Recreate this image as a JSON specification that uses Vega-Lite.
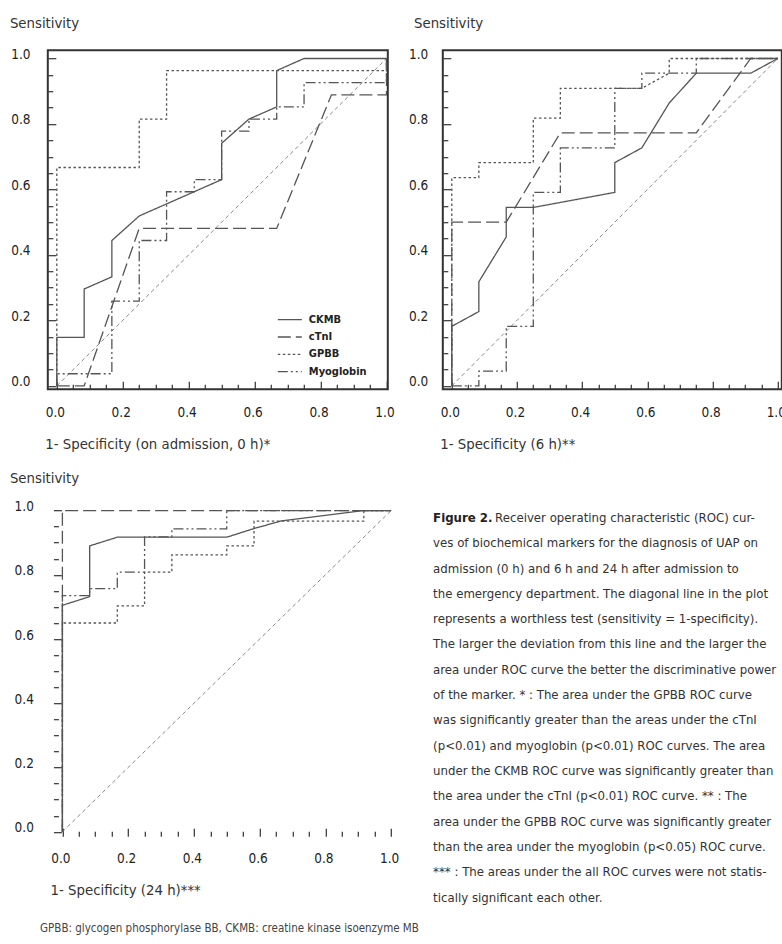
{
  "$schema": "https://vega.github.io/schema/vega-lite/v6.json",
  "background": "white",
  "padding": {"left": 7.8, "top": 14.2, "right": 0, "bottom": 0},
  "config": {
    "font": "DejaVu Sans Condensed, sans-serif",
    "view": {"stroke": "#333", "strokeWidth": 2},
    "axis": {"grid": false, "domain": false, "tickColor": "#333", "tickWidth": 1.2,
      "labelFont": "DejaVu Sans Condensed, sans-serif", "labelFontSize": 13.5, "labelColor": "#222",
      "titleFont": "DejaVu Sans Condensed, sans-serif", "titleFontSize": 14.8, "titleFontWeight": "normal", "titleColor": "#333"},
    "legend": {"symbolType": "stroke", "symbolStrokeWidth": 1.3, "symbolStrokeColor": "#555", "symbolSize": 576, "clipHeight": 13,
      "labelFont": "DejaVu Sans Condensed, sans-serif", "labelFontSize": 11, "labelFontWeight": "bold", "labelColor": "#222",
      "rowPadding": 4.3, "labelOffset": 6, "padding": 0}
  },
  "datasets": {
    "p1": [
      {"m":"CKMB","o":1,"x":0,"y":0},{"m":"CKMB","o":2,"x":0,"y":0.148},{"m":"CKMB","o":3,"x":0.083,"y":0.148},{"m":"CKMB","o":4,"x":0.083,"y":0.296},{"m":"CKMB","o":5,"x":0.167,"y":0.333},{"m":"CKMB","o":6,"x":0.167,"y":0.444},{"m":"CKMB","o":7,"x":0.25,"y":0.519},{"m":"CKMB","o":8,"x":0.5,"y":0.63},{"m":"CKMB","o":9,"x":0.5,"y":0.741},{"m":"CKMB","o":10,"x":0.583,"y":0.815},{"m":"CKMB","o":11,"x":0.667,"y":0.852},{"m":"CKMB","o":12,"x":0.667,"y":0.963},{"m":"CKMB","o":13,"x":0.75,"y":1},{"m":"CKMB","o":14,"x":1,"y":1},
      {"m":"cTnI","o":1,"x":0,"y":0},{"m":"cTnI","o":2,"x":0.083,"y":0},{"m":"cTnI","o":3,"x":0.25,"y":0.481},{"m":"cTnI","o":4,"x":0.667,"y":0.481},{"m":"cTnI","o":5,"x":0.833,"y":0.889},{"m":"cTnI","o":6,"x":1,"y":0.889},{"m":"cTnI","o":7,"x":1,"y":1},
      {"m":"GPBB","o":1,"x":0,"y":0},{"m":"GPBB","o":2,"x":0,"y":0.667},{"m":"GPBB","o":3,"x":0.25,"y":0.667},{"m":"GPBB","o":4,"x":0.25,"y":0.815},{"m":"GPBB","o":5,"x":0.333,"y":0.815},{"m":"GPBB","o":6,"x":0.333,"y":0.963},{"m":"GPBB","o":7,"x":1,"y":0.963},{"m":"GPBB","o":8,"x":1,"y":1},
      {"m":"Myoglobin","o":1,"x":0,"y":0},{"m":"Myoglobin","o":2,"x":0,"y":0.037},{"m":"Myoglobin","o":3,"x":0.167,"y":0.037},{"m":"Myoglobin","o":4,"x":0.167,"y":0.259},{"m":"Myoglobin","o":5,"x":0.25,"y":0.259},{"m":"Myoglobin","o":6,"x":0.25,"y":0.444},{"m":"Myoglobin","o":7,"x":0.333,"y":0.444},{"m":"Myoglobin","o":8,"x":0.333,"y":0.593},{"m":"Myoglobin","o":9,"x":0.417,"y":0.593},{"m":"Myoglobin","o":10,"x":0.417,"y":0.63},{"m":"Myoglobin","o":11,"x":0.5,"y":0.63},{"m":"Myoglobin","o":12,"x":0.5,"y":0.778},{"m":"Myoglobin","o":13,"x":0.583,"y":0.778},{"m":"Myoglobin","o":14,"x":0.583,"y":0.815},{"m":"Myoglobin","o":15,"x":0.667,"y":0.815},{"m":"Myoglobin","o":16,"x":0.667,"y":0.852},{"m":"Myoglobin","o":17,"x":0.75,"y":0.852},{"m":"Myoglobin","o":18,"x":0.75,"y":0.926},{"m":"Myoglobin","o":19,"x":1,"y":0.926},{"m":"Myoglobin","o":20,"x":1,"y":1}
    ],
    "p2": [
      {"m":"CKMB","o":1,"x":0,"y":0},{"m":"CKMB","o":2,"x":0,"y":0.182},{"m":"CKMB","o":3,"x":0.083,"y":0.227},{"m":"CKMB","o":4,"x":0.083,"y":0.318},{"m":"CKMB","o":5,"x":0.167,"y":0.455},{"m":"CKMB","o":6,"x":0.167,"y":0.545},{"m":"CKMB","o":7,"x":0.25,"y":0.545},{"m":"CKMB","o":8,"x":0.5,"y":0.591},{"m":"CKMB","o":9,"x":0.5,"y":0.682},{"m":"CKMB","o":10,"x":0.583,"y":0.727},{"m":"CKMB","o":11,"x":0.667,"y":0.864},{"m":"CKMB","o":12,"x":0.75,"y":0.955},{"m":"CKMB","o":13,"x":0.917,"y":0.955},{"m":"CKMB","o":14,"x":1,"y":1},
      {"m":"cTnI","o":1,"x":0,"y":0},{"m":"cTnI","o":2,"x":0,"y":0.5},{"m":"cTnI","o":3,"x":0.167,"y":0.5},{"m":"cTnI","o":4,"x":0.333,"y":0.773},{"m":"cTnI","o":5,"x":0.75,"y":0.773},{"m":"cTnI","o":6,"x":0.917,"y":1},{"m":"cTnI","o":7,"x":1,"y":1},
      {"m":"GPBB","o":1,"x":0,"y":0},{"m":"GPBB","o":2,"x":0,"y":0.636},{"m":"GPBB","o":3,"x":0.083,"y":0.636},{"m":"GPBB","o":4,"x":0.083,"y":0.682},{"m":"GPBB","o":5,"x":0.25,"y":0.682},{"m":"GPBB","o":6,"x":0.25,"y":0.818},{"m":"GPBB","o":7,"x":0.333,"y":0.818},{"m":"GPBB","o":8,"x":0.333,"y":0.909},{"m":"GPBB","o":9,"x":0.583,"y":0.909},{"m":"GPBB","o":10,"x":0.667,"y":0.955},{"m":"GPBB","o":11,"x":0.667,"y":1},{"m":"GPBB","o":12,"x":1,"y":1},
      {"m":"Myoglobin","o":1,"x":0,"y":0},{"m":"Myoglobin","o":2,"x":0.083,"y":0},{"m":"Myoglobin","o":3,"x":0.083,"y":0.045},{"m":"Myoglobin","o":4,"x":0.167,"y":0.045},{"m":"Myoglobin","o":5,"x":0.167,"y":0.182},{"m":"Myoglobin","o":6,"x":0.25,"y":0.182},{"m":"Myoglobin","o":7,"x":0.25,"y":0.591},{"m":"Myoglobin","o":8,"x":0.333,"y":0.591},{"m":"Myoglobin","o":9,"x":0.333,"y":0.727},{"m":"Myoglobin","o":10,"x":0.5,"y":0.727},{"m":"Myoglobin","o":11,"x":0.5,"y":0.909},{"m":"Myoglobin","o":12,"x":0.583,"y":0.909},{"m":"Myoglobin","o":13,"x":0.583,"y":0.955},{"m":"Myoglobin","o":14,"x":0.75,"y":0.955},{"m":"Myoglobin","o":15,"x":0.75,"y":1},{"m":"Myoglobin","o":16,"x":1,"y":1}
    ],
    "p3": [
      {"m":"CKMB","o":1,"x":0,"y":0},{"m":"CKMB","o":2,"x":0,"y":0.705},{"m":"CKMB","o":3,"x":0.083,"y":0.732},{"m":"CKMB","o":4,"x":0.083,"y":0.89},{"m":"CKMB","o":5,"x":0.167,"y":0.917},{"m":"CKMB","o":6,"x":0.5,"y":0.917},{"m":"CKMB","o":7,"x":0.583,"y":0.944},{"m":"CKMB","o":8,"x":0.667,"y":0.968},{"m":"CKMB","o":9,"x":0.917,"y":1},{"m":"CKMB","o":10,"x":1,"y":1},
      {"m":"cTnI","o":1,"x":0,"y":0},{"m":"cTnI","o":2,"x":0,"y":1},{"m":"cTnI","o":3,"x":1,"y":1},
      {"m":"GPBB","o":1,"x":0,"y":0},{"m":"GPBB","o":2,"x":0,"y":0.65},{"m":"GPBB","o":3,"x":0.167,"y":0.65},{"m":"GPBB","o":4,"x":0.167,"y":0.703},{"m":"GPBB","o":5,"x":0.25,"y":0.703},{"m":"GPBB","o":6,"x":0.25,"y":0.808},{"m":"GPBB","o":7,"x":0.333,"y":0.808},{"m":"GPBB","o":8,"x":0.333,"y":0.862},{"m":"GPBB","o":9,"x":0.5,"y":0.862},{"m":"GPBB","o":10,"x":0.5,"y":0.89},{"m":"GPBB","o":11,"x":0.583,"y":0.89},{"m":"GPBB","o":12,"x":0.583,"y":0.967},{"m":"GPBB","o":13,"x":0.917,"y":0.967},{"m":"GPBB","o":14,"x":0.917,"y":1},{"m":"GPBB","o":15,"x":1,"y":1},
      {"m":"Myoglobin","o":1,"x":0,"y":0},{"m":"Myoglobin","o":2,"x":0,"y":0.735},{"m":"Myoglobin","o":3,"x":0.083,"y":0.735},{"m":"Myoglobin","o":4,"x":0.083,"y":0.757},{"m":"Myoglobin","o":5,"x":0.167,"y":0.757},{"m":"Myoglobin","o":6,"x":0.167,"y":0.808},{"m":"Myoglobin","o":7,"x":0.25,"y":0.808},{"m":"Myoglobin","o":8,"x":0.25,"y":0.918},{"m":"Myoglobin","o":9,"x":0.333,"y":0.918},{"m":"Myoglobin","o":10,"x":0.333,"y":0.943},{"m":"Myoglobin","o":11,"x":0.5,"y":0.943},{"m":"Myoglobin","o":12,"x":0.5,"y":1},{"m":"Myoglobin","o":13,"x":1,"y":1}
    ],
    "diag": [{"x":0,"y":0},{"x":1,"y":1}],
    "caption": [
      {"line":1,"text":"Receiver operating characteristic (ROC) cur-"},
      {"line":2,"text":"ves of biochemical markers for the diagnosis of UAP on"},
      {"line":3,"text":"admission (0 h) and 6 h and 24 h after admission to"},
      {"line":4,"text":"the emergency department. The diagonal line in the plot"},
      {"line":5,"text":"represents a worthless test (sensitivity = 1-specificity)."},
      {"line":6,"text":"The larger the deviation from this line and the larger the"},
      {"line":7,"text":"area under ROC curve the better the discriminative power"},
      {"line":8,"text":"of the marker. * : The area under the GPBB ROC curve"},
      {"line":9,"text":"was significantly greater than the areas under the cTnI"},
      {"line":10,"text":"(p<0.01) and myoglobin (p<0.01) ROC curves. The area"},
      {"line":11,"text":"under the CKMB ROC curve was significantly greater than"},
      {"line":12,"text":"the area under the cTnI (p<0.01) ROC curve.  ** : The"},
      {"line":13,"text":"area under the GPBB ROC curve was significantly greater"},
      {"line":14,"text":"than the area under the myoglobin (p<0.05) ROC curve."},
      {"line":15,"text":"*** : The areas under the all ROC curves were not statis-"},
      {"line":16,"text":"tically significant each other."}
    ],
    "captionBold": [{"line":1,"text":"Figure 2."}]
  },
  "spacing": 18,
  "vconcat": [
    {
      "bounds": "flush",
      "spacing": 55,
      "hconcat": [
        {
          "width": 340, "height": 339,
          "encoding": {
            "x": {"field": "x", "type": "quantitative", "scale": {"domain": [-0.0273, 1.004], "nice": false, "zero": false},
              "axis": {"values": [0,0.05,0.1,0.15,0.2,0.25,0.3,0.35,0.4,0.45,0.5,0.55,0.6,0.65,0.7,0.75,0.8,0.85,0.9,0.95,1],
                "labelExpr": "round(datum.value*20)%4==0 ? format(datum.value,'.1f') : ''",
                "tickSize": {"condition": {"test": "round(datum.value*20)%4==0", "value": -8}, "value": -5},
                "labelPadding": 24.5, "labelOffset": -2, "labelFlush": false,
                "title": "1- Specificity (on admission, 0 h)*", "titleAnchor": "start", "titleAlign": "left", "titleX": -3, "titleY": 59, "titleBaseline": "alphabetic"}},
            "y": {"field": "y", "type": "quantitative", "scale": {"domain": [-0.0101, 1.0253], "nice": false, "zero": false},
              "axis": {"values": [0,0.05,0.1,0.15,0.2,0.25,0.3,0.35,0.4,0.45,0.5,0.55,0.6,0.65,0.7,0.75,0.8,0.85,0.9,0.95,1],
                "labelExpr": "round(datum.value*20)%4==0 ? format(datum.value,'.1f') : ''",
                "tickSize": {"condition": {"test": "round(datum.value*20)%4==0", "value": -8}, "value": -5},
                "labelPadding": 25.7, "labelBaseline": "alphabetic", "labelFlush": false,
                "title": "Sensitivity", "titleAngle": 0, "titleAlign": "left", "titleX": -38.4, "titleY": -22.4, "titleBaseline": "alphabetic"}}
          },
          "layer": [
            {"data": {"name": "diag"}, "mark": {"type": "line", "color": "#888", "strokeWidth": 1, "strokeDash": [4, 3]}},
            {"data": {"name": "p1"}, "mark": {"type": "line", "color": "#555", "strokeWidth": 1.3},
              "encoding": {"order": {"field": "o"},
                "strokeDash": {"field": "m", "type": "nominal", "scale": {"domain": ["CKMB","cTnI","GPBB","Myoglobin"], "range": [[1,0],[13,5],[2.5,2.5],[10,3,2,3,2,3]]},
                  "legend": {"title": null, "orient": "none", "legendX": 229, "legendY": 263}}}}
          ]
        },
        {
          "width": 339, "height": 339,
          "encoding": {
            "x": {"field": "x", "type": "quantitative", "scale": {"domain": [-0.0276, 1.0123], "nice": false, "zero": false},
              "axis": {"values": [0,0.05,0.1,0.15,0.2,0.25,0.3,0.35,0.4,0.45,0.5,0.55,0.6,0.65,0.7,0.75,0.8,0.85,0.9,0.95,1],
                "labelExpr": "round(datum.value*20)%4==0 ? format(datum.value,'.1f') : ''",
                "tickSize": {"condition": {"test": "round(datum.value*20)%4==0", "value": -8}, "value": -5},
                "labelPadding": 24.5, "labelOffset": -2, "labelFlush": false,
                "title": "1- Specificity (6 h)**", "titleAnchor": "start", "titleAlign": "left", "titleX": -3, "titleY": 59, "titleBaseline": "alphabetic"}},
            "y": {"field": "y", "type": "quantitative", "scale": {"domain": [-0.0101, 1.0253], "nice": false, "zero": false},
              "axis": {"values": [0,0.05,0.1,0.15,0.2,0.25,0.3,0.35,0.4,0.45,0.5,0.55,0.6,0.65,0.7,0.75,0.8,0.85,0.9,0.95,1],
                "labelExpr": "round(datum.value*20)%4==0 ? format(datum.value,'.1f') : ''",
                "tickSize": {"condition": {"test": "round(datum.value*20)%4==0", "value": -8}, "value": -5},
                "labelPadding": 23, "labelBaseline": "alphabetic", "labelFlush": false,
                "title": "Sensitivity", "titleAngle": 0, "titleAlign": "left", "titleX": -29.3, "titleY": -22.7, "titleBaseline": "alphabetic"}}
          },
          "layer": [
            {"data": {"name": "diag"}, "mark": {"type": "line", "color": "#888", "strokeWidth": 1, "strokeDash": [4, 3]}},
            {"data": {"name": "p2"}, "mark": {"type": "line", "color": "#555", "strokeWidth": 1.3},
              "encoding": {"order": {"field": "o"},
                "strokeDash": {"field": "m", "type": "nominal", "scale": {"domain": ["CKMB","cTnI","GPBB","Myoglobin"], "range": [[1,0],[13,5],[2.5,2.5],[10,3,2,3,2,3]]},
                  "legend": {"title": null, "orient": "none", "legendX": 230, "legendY": 258}}}}
          ]
        }
      ]
    },
    {
      "bounds": "flush",
      "spacing": 36.3,
      "hconcat": [
        {
          "width": 348.3, "height": 334,
          "view": {"stroke": null},
          "title": {"text": "GPBB: glycogen phosphorylase BB, CKMB: creatine kinase isoenzyme MB", "orient": "bottom", "anchor": "start", "frame": "group", "dx": -7.7, "offset": 26,
            "font": "DejaVu Sans Condensed, sans-serif", "fontSize": 11.5, "fontWeight": "normal", "color": "#444"},
          "encoding": {
            "x": {"field": "x", "type": "quantitative", "scale": {"domain": [-0.0444, 1.0152], "nice": false, "zero": false},
              "axis": {"values": [0,0.05,0.1,0.15,0.2,0.25,0.3,0.35,0.4,0.45,0.5,0.55,0.6,0.65,0.7,0.75,0.8,0.85,0.9,0.95,1],
                "labelExpr": "round(datum.value*20)%4==0 ? format(datum.value,'.1f') : ''",
                "tickSize": {"condition": {"test": "round(datum.value*20)%4==0", "value": -8}, "value": -5},
                "labelPadding": 23.5, "labelOffset": -2, "labelFlush": false,
                "title": "1- Specificity (24 h)***", "titleAnchor": "start", "titleAlign": "left", "titleX": 2.3, "titleY": 58, "titleBaseline": "alphabetic"}},
            "y": {"field": "y", "type": "quantitative", "scale": {"domain": [-0.0137, 1.026], "nice": false, "zero": false},
              "axis": {"values": [0,0.05,0.1,0.15,0.2,0.25,0.3,0.35,0.4,0.45,0.5,0.55,0.6,0.65,0.7,0.75,0.8,0.85,0.9,0.95,1],
                "offset": -5.6,
                "labelExpr": "round(datum.value*20)%4==0 ? format(datum.value,'.1f') : ''",
                "tickSize": {"condition": {"test": "round(datum.value*20)%4==0", "value": -8}, "value": -5},
                "labelPadding": 28, "labelBaseline": "alphabetic", "labelFlush": false,
                "title": "Sensitivity", "titleAngle": 0, "titleAlign": "left", "titleX": -44, "titleY": -20, "titleBaseline": "alphabetic"}}
          },
          "layer": [
            {"data": {"values": [{}]}, "mark": {"type": "rect", "fill": null, "stroke": "#333", "strokeWidth": 2},
              "encoding": {"x": {"datum": -0.0274}, "x2": {"datum": 1.0152}, "y": {"datum": -0.0137}, "y2": {"datum": 1.026}}},
            {"data": {"name": "diag"}, "mark": {"type": "line", "color": "#888", "strokeWidth": 1, "strokeDash": [4, 3]}},
            {"data": {"name": "p3"}, "mark": {"type": "line", "color": "#555", "strokeWidth": 1.3},
              "encoding": {"order": {"field": "o"},
                "strokeDash": {"field": "m", "type": "nominal", "scale": {"domain": ["CKMB","cTnI","GPBB","Myoglobin"], "range": [[1,0],[13,5],[2.5,2.5],[10,3,2,3,2,3]]},
                  "legend": {"title": null, "orient": "none", "legendX": 235.6, "legendY": 252}}}}
          ]
        },
        {
          "width": 344, "height": 405,
          "view": {"stroke": null},
          "encoding": {
            "x": {"datum": 0, "type": "quantitative", "scale": {"domain": [0, 1]}, "axis": null},
            "y": {"field": "line", "type": "quantitative", "scale": {"domain": [0.379, 16.379], "reverse": true, "nice": false, "zero": false}, "axis": null}
          },
          "layer": [
            {"data": {"name": "captionBold"}, "mark": {"type": "text", "align": "left", "baseline": "middle", "fontSize": 13.1, "fontWeight": "bold", "color": "#222", "font": "DejaVu Sans Condensed, sans-serif"},
              "encoding": {"text": {"field": "text"}}},
            {"data": {"name": "caption"}, "transform": [{"filter": "datum.line == 1"}],
              "mark": {"type": "text", "align": "left", "baseline": "middle", "fontSize": 13.1, "dx": 62, "color": "#333", "font": "DejaVu Sans Condensed, sans-serif"},
              "encoding": {"text": {"field": "text"}}},
            {"data": {"name": "caption"}, "transform": [{"filter": "datum.line > 1"}],
              "mark": {"type": "text", "align": "left", "baseline": "middle", "fontSize": 13.1, "color": "#333", "font": "DejaVu Sans Condensed, sans-serif"},
              "encoding": {"text": {"field": "text"}}}
          ]
        }
      ]
    }
  ]
}
